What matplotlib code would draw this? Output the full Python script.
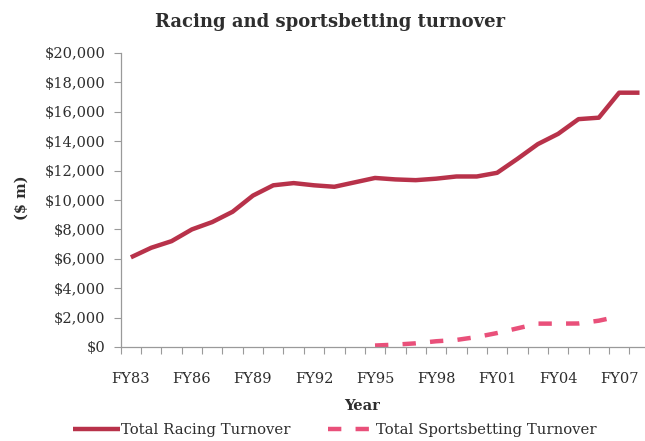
import matplotlib
matplotlib.use('Agg')
import matplotlib.pyplot as plt
import numpy as np

# financial years FY83 .. FY08
years = ['FY83', 'FY84', 'FY85', 'FY86', 'FY87', 'FY88', 'FY89', 'FY90', 'FY91',
         'FY92', 'FY93', 'FY94', 'FY95', 'FY96', 'FY97', 'FY98', 'FY99', 'FY00',
         'FY01', 'FY02', 'FY03', 'FY04', 'FY05', 'FY06', 'FY07', 'FY08']
tick_labels = ['FY83', 'FY86', 'FY89', 'FY92', 'FY95', 'FY98', 'FY01', 'FY04', 'FY07']

# $ m
racing = [6100, 6750, 7200, 8000, 8500, 9200, 10300, 11000, 11150, 11000, 10900,
          11200, 11500, 11400, 11350, 11450, 11600, 11600, 11850, 12800, 13800,
          14500, 15500, 15600, 17300, 17300]
# sportsbetting starts at FY95, ends FY07
sports_years = years[12:25]
sports = [100, 160, 250, 390, 480, 680, 950, 1270, 1590, 1590, 1600, 1790, 2090]

red = '#b8324a'
pink = '#e9507a'
grey = '#9a9a9a'
txt = '#2e2e2e'
font = 'DejaVu Serif'

plt.rcParams['font.family'] = font

fig = plt.figure(figsize=(6.45, 4.41), dpi=100)
ax = fig.add_axes([120.7 / 645, 94 / 441, 529 / 645, 294 / 441])

x = np.arange(len(years))
xs = np.array([years.index(y) for y in sports_years])
ax.plot(x, racing, color=red, lw=3.2, solid_capstyle='butt', solid_joinstyle='round',
        label='Total Racing Turnover')
ax.plot(xs, sports, color=pink, lw=3.2, dashes=(3.0, 3.2), dash_capstyle='butt',
        label='Total Sportsbetting Turnover')

ax.set_xlim(-0.5, len(years) - 0.5)
ax.set_ylim(0, 20000)
ax.set_yticks(np.arange(0, 20001, 2000))
ax.set_yticklabels(['${:,}'.format(v) for v in range(0, 20001, 2000)])
ax.set_xticks([years.index(t) for t in tick_labels])
ax.set_xticklabels(tick_labels)
ax.set_xticks(np.arange(-0.5, len(years), 1), minor=True)
ax.tick_params(axis='x', which='major', length=0, pad=18, labelsize=10.5, labelcolor=txt)
ax.tick_params(axis='x', which='minor', length=5, width=0.8, color=grey, direction='out')
ax.tick_params(axis='y', length=5, width=0.8, color=grey, pad=6, labelsize=10.5, labelcolor=txt)

for s in ['top', 'right']:
    ax.spines[s].set_visible(False)
for s in ['left', 'bottom']:
    ax.spines[s].set_color(grey)
    ax.spines[s].set_linewidth(0.9)

fig.text(330 / 645, 1 - 22 / 441, 'Racing and sportsbetting turnover', ha='center', va='center',
         fontsize=13, fontweight='bold', color=txt)
fig.text(22 / 645, 1 - 198 / 441, '($ m)', rotation=90, ha='center', va='center',
         fontsize=10.5, fontweight='bold', color=txt)
fig.text(362 / 645, 1 - 406 / 441, 'Year', ha='center', va='center',
         fontsize=10.5, fontweight='bold', color=txt)

leg = fig.legend(loc='center', bbox_to_anchor=(334.5 / 645, 1 - 430 / 441), ncol=2, frameon=False,
                 fontsize=10.7, handlelength=3.2, handletextpad=0.05, columnspacing=2.5,
                 borderaxespad=0)
for t in leg.get_texts():
    t.set_color(txt)

fig.savefig('out.png', dpi=100)
